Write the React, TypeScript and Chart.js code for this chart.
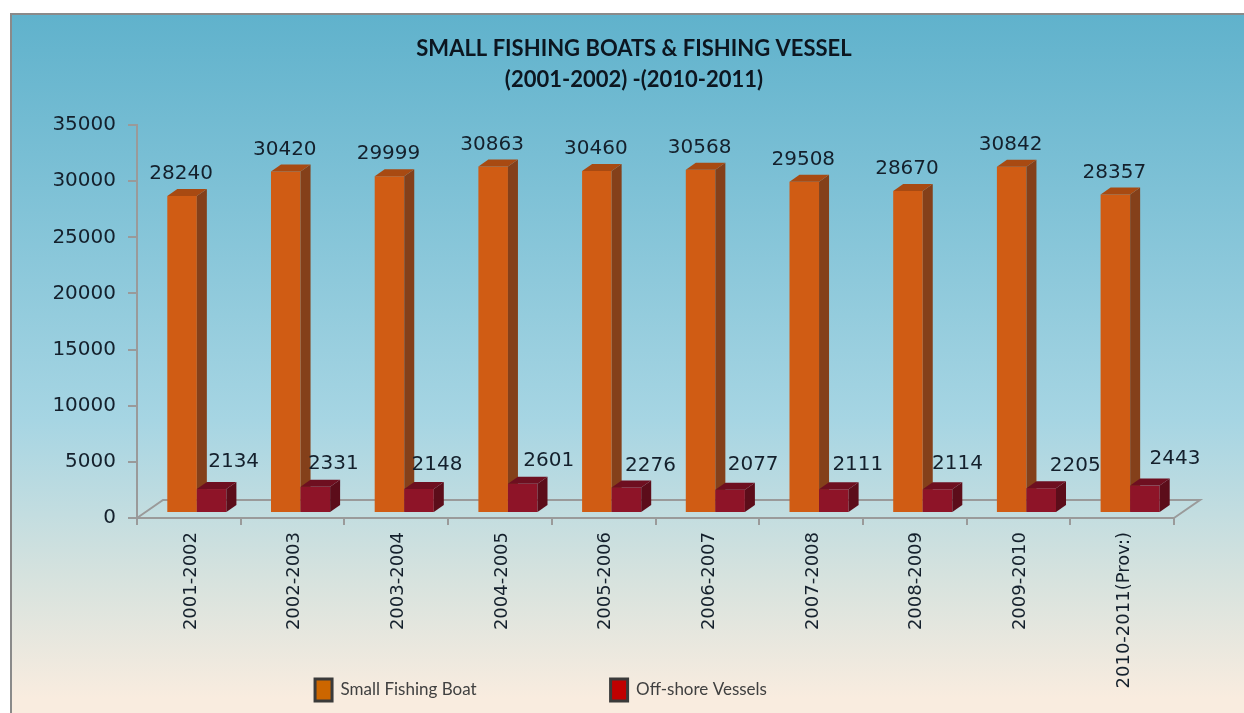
import React, { useEffect, useRef } from "react";
import { Chart, registerables } from "chart.js";

Chart.register(...registerables);

const periods = [
  "2001-2002", "2002-2003", "2003-2004", "2004-2005", "2005-2006",
  "2006-2007", "2007-2008", "2008-2009", "2009-2010", "2010-2011(Prov:)",
];
const smallFishingBoats = [28240, 30420, 29999, 30863, 30460, 30568, 29508, 28670, 30842, 28357];
const offshoreVessels = [2134, 2331, 2148, 2601, 2276, 2077, 2111, 2114, 2205, 2443];
const titleLines = ["SMALL FISHING BOATS & FISHING VESSEL", "(2001-2002) -(2010-2011)"];

// Hand-placed offsets of the vessel value labels relative to the top of each bar.
const vesselLabelDx = [22, 18, 18, 26, 24, 23, 24, 20, 34, 30];
const vesselLabelDy = [-20, -16, -17, -16, -15, -18, -18, -18, -15, -20];

const AXIS_GREY = "#9a9a9a";
const VALUE_FONT = "20px 'DejaVu Sans'";
const VALUE_COLOR = "#14202c";

// Faces of the extruded bars, per dataset.
const faces = [
  { side: "#84401a", top: "#a84a12" },
  { side: "#5c0d1a", top: "#6e0f20" },
];
const BAR_SHIFT = { x: 8, y: -5 };
const BAR_DEPTH = { x: 10, y: -7 };
const FLOOR_DEPTH = { x: 26, y: -18 };

const floorPlugin = {
  id: "floor",
  beforeDatasetsDraw(chart: any) {
    const { ctx, chartArea: a } = chart;
    ctx.save();
    ctx.strokeStyle = AXIS_GREY;
    ctx.lineWidth = 2;
    ctx.beginPath();
    ctx.moveTo(a.left, a.bottom);
    ctx.lineTo(a.left + FLOOR_DEPTH.x, a.bottom + FLOOR_DEPTH.y);
    ctx.lineTo(a.right + FLOOR_DEPTH.x, a.bottom + FLOOR_DEPTH.y);
    ctx.lineTo(a.right, a.bottom);
    ctx.stroke();
    ctx.restore();
  },
};

// Bars are painted in dataset order with their side and top faces, shifted into the floor's depth.
const extrudedBarsPlugin = {
  id: "extrudedBars",
  beforeDatasetDraw() {
    return false;
  },
  afterDatasetsDraw(chart: any) {
    const { ctx } = chart;
    chart.data.datasets.forEach((_: any, di: number) => {
      const meta = chart.getDatasetMeta(di);
      ctx.save();
      ctx.translate(BAR_SHIFT.x, BAR_SHIFT.y);
      meta.controller.draw();
      meta.data.forEach((el: any) => {
        const l = el.x - el.width / 2;
        const r = el.x + el.width / 2;
        const dx = BAR_DEPTH.x;
        const dy = BAR_DEPTH.y;
        ctx.fillStyle = faces[di].side;
        ctx.beginPath();
        ctx.moveTo(r, el.y);
        ctx.lineTo(r + dx, el.y + dy);
        ctx.lineTo(r + dx, el.base + dy);
        ctx.lineTo(r, el.base);
        ctx.closePath();
        ctx.fill();
        ctx.fillStyle = faces[di].top;
        ctx.beginPath();
        ctx.moveTo(l, el.y);
        ctx.lineTo(l + dx, el.y + dy);
        ctx.lineTo(r + dx, el.y + dy);
        ctx.lineTo(r, el.y);
        ctx.closePath();
        ctx.fill();
      });
      ctx.restore();
    });

    // Value labels above the bars.
    ctx.save();
    ctx.font = VALUE_FONT;
    ctx.fillStyle = VALUE_COLOR;
    ctx.textAlign = "center";
    ctx.textBaseline = "middle";
    chart.data.datasets.forEach((ds: any, di: number) => {
      chart.getDatasetMeta(di).data.forEach((el: any, i: number) => {
        const topY = el.y + BAR_SHIFT.y + BAR_DEPTH.y;
        const cx = el.x + BAR_SHIFT.x;
        const dx = di === 0 ? -1 : vesselLabelDx[i];
        const dy = di === 0 ? -15 : vesselLabelDy[i];
        ctx.fillText(String(ds.data[i]), cx + dx, topY + dy);
      });
    });
    ctx.restore();
  },
};

// Title is centred a little right of the canvas middle; the legend sits low, below the rotated axis labels.
const boxPlacementPlugin = {
  id: "boxPlacement",
  beforeDraw(chart: any) {
    const title = chart.titleBlock;
    title.left = 94;
    title.right = 1174;
    const lg = chart.legend;
    const pad = lg.options.labels.padding;
    lg.left = 1;
    lg.right = 1081;
    lg.top = 679 - pad;
    lg.bottom = 713;
  },
};

export default function App() {
  const ref = useRef<HTMLCanvasElement | null>(null);

  useEffect(() => {
    const chart = new Chart(ref.current as HTMLCanvasElement, {
      type: "bar",
      data: {
        labels: periods,
        datasets: [
          {
            label: "Small Fishing Boat",
            data: smallFishingBoats,
            backgroundColor: "#d05c14",
            categoryPercentage: 0.57,
            barPercentage: 1,
            borderWidth: 0,
          },
          {
            label: "Off-shore Vessels",
            data: offshoreVessels,
            backgroundColor: "#8e1428",
            categoryPercentage: 0.57,
            barPercentage: 1,
            borderWidth: 0,
          },
        ],
      },
      options: {
        responsive: false,
        animation: false,
        layout: { autoPadding: false, padding: { right: 70 } },
        plugins: {
          title: {
            display: true,
            text: titleLines,
            color: "#0c1620",
            font: { family: "Lato", size: 22, weight: "bold", lineHeight: 1.41 },
            padding: { top: 33, bottom: 30 },
          },
          legend: {
            display: true,
            position: "bottom",
            maxHeight: 10,
            labels: {
              font: { family: "Lato", size: 17 },
              color: "#404040",
              boxWidth: 17,
              boxHeight: 22,
              padding: 134,
              generateLabels: () => [
                { text: "Small Fishing Boat", fillStyle: "#cc6600", strokeStyle: "#3a3a3a", lineWidth: 3, datasetIndex: 0, fontColor: "#404040" },
                { text: "Off-shore Vessels", fillStyle: "#c00000", strokeStyle: "#3a3a3a", lineWidth: 3, datasetIndex: 1, fontColor: "#404040" },
              ],
            },
          },
          tooltip: { enabled: false },
        },
        scales: {
          x: {
            afterFit: (s: any) => { s.height = 185; },
            border: { color: AXIS_GREY, width: 2 },
            grid: { drawOnChartArea: false, drawTicks: true, color: AXIS_GREY, lineWidth: 2, tickLength: 7 },
            ticks: {
              minRotation: 90,
              maxRotation: 90,
              autoSkip: false,
              padding: 7,
              labelOffset: 2,
              color: VALUE_COLOR,
              font: { family: "DejaVu Sans", size: 18 },
            },
          },
          y: {
            min: 0,
            max: 35000,
            afterFit: (s: any) => { s.width = 137; },
            border: { color: AXIS_GREY, width: 2 },
            grid: { drawOnChartArea: false, drawTicks: true, color: AXIS_GREY, lineWidth: 2, tickLength: 9 },
            ticks: {
              stepSize: 5000,
              padding: 12,
              color: VALUE_COLOR,
              font: { family: "DejaVu Sans", size: 20 },
              format: { useGrouping: false },
            },
          },
        },
      },
      plugins: [boxPlacementPlugin, floorPlugin, extrudedBarsPlugin],
    } as any);
    return () => chart.destroy();
  }, []);

  return (
    <div style={{ position: "fixed", left: 0, top: 0, width: 1244, height: 713, overflow: "hidden", background: "#fff" }}>
      <div
        style={{
          position: "absolute",
          left: 10,
          top: 13,
          right: 0,
          bottom: 0,
          boxSizing: "border-box",
          borderTop: "2px solid #8a8a8a",
          borderLeft: "2px solid #8a8a8a",
          background: "linear-gradient(180deg, #60b2cc 0%, #a6d5e3 58%, #d5e2de 80%, #f9ecdf 98%)",
        }}
      />
      <canvas ref={ref} width={1244} height={713} style={{ position: "absolute", left: 0, top: 0, display: "block" }} />
    </div>
  );
}
